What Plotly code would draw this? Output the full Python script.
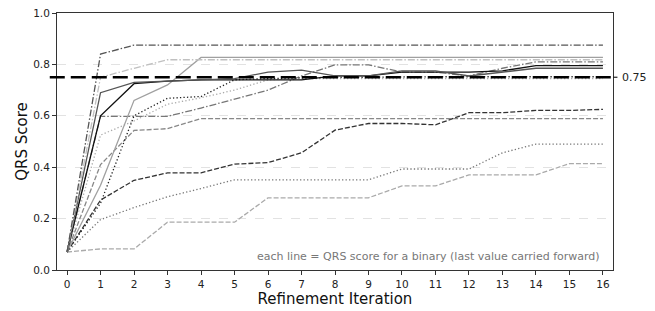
import plotly.graph_objects as go

iterations = list(range(17))

# QRS score per binary (last value carried forward)
bin_a = [0.07, 0.84, 0.875, 0.875, 0.875, 0.875, 0.875, 0.875, 0.875, 0.875, 0.875, 0.875, 0.875, 0.875, 0.875, 0.875, 0.875]
bin_b = [0.07, 0.75, 0.785, 0.818, 0.818, 0.818, 0.818, 0.818, 0.818, 0.818, 0.818, 0.818, 0.818, 0.818, 0.818, 0.818, 0.818]
bin_c = [0.07, 0.33, 0.66, 0.72, 0.827, 0.827, 0.827, 0.827, 0.827, 0.827, 0.827, 0.827, 0.827, 0.827, 0.827, 0.827, 0.827]
bin_d = [0.07, 0.69, 0.73, 0.735, 0.74, 0.745, 0.77, 0.778, 0.755, 0.755, 0.775, 0.775, 0.755, 0.77, 0.785, 0.785, 0.785]
bin_e = [0.07, 0.60, 0.725, 0.735, 0.74, 0.74, 0.74, 0.74, 0.755, 0.755, 0.77, 0.77, 0.77, 0.775, 0.795, 0.795, 0.795]
bin_f = [0.07, 0.26, 0.60, 0.668, 0.675, 0.74, 0.745, 0.748, 0.75, 0.75, 0.752, 0.752, 0.752, 0.752, 0.752, 0.752, 0.752]
bin_g = [0.07, 0.525, 0.58, 0.645, 0.67, 0.70, 0.74, 0.745, 0.745, 0.745, 0.745, 0.745, 0.745, 0.745, 0.745, 0.745, 0.745]
bin_h = [0.07, 0.598, 0.598, 0.598, 0.63, 0.665, 0.70, 0.755, 0.798, 0.798, 0.77, 0.77, 0.755, 0.785, 0.81, 0.81, 0.81]
bin_i = [0.07, 0.41, 0.543, 0.55, 0.589, 0.589, 0.589, 0.589, 0.589, 0.589, 0.589, 0.589, 0.589, 0.589, 0.589, 0.589, 0.589]
bin_j = [0.07, 0.272, 0.349, 0.378, 0.378, 0.412, 0.418, 0.456, 0.544, 0.57, 0.57, 0.565, 0.612, 0.612, 0.621, 0.621, 0.625]
bin_k = [0.07, 0.196, 0.243, 0.285, 0.317, 0.351, 0.351, 0.351, 0.351, 0.351, 0.393, 0.393, 0.393, 0.456, 0.49, 0.49, 0.49]
bin_l = [0.07, 0.082, 0.082, 0.186, 0.186, 0.186, 0.281, 0.281, 0.281, 0.281, 0.327, 0.327, 0.37, 0.37, 0.37, 0.414, 0.414]

threshold = 0.75
x_ticks = list(range(17))
y_ticks = [0.0, 0.2, 0.4, 0.6, 0.8, 1.0]

DASH = "5px,2px"
DOT = "1.3px,2.2px"
DASHDOT = "7px,2px,1.5px,2px"

series = [
    (bin_l, "#aaaaaa", DASH),
    (bin_k, "#777777", DOT),
    (bin_j, "#333333", DASH),
    (bin_i, "#888888", DASH),
    (bin_h, "#777777", DASHDOT),
    (bin_g, "#aaaaaa", DOT),
    (bin_f, "#222222", DOT),
    (bin_c, "#a0a0a0", "solid"),
    (bin_e, "#111111", "solid"),
    (bin_d, "#555555", "solid"),
    (bin_b, "#c0c0c0", DASHDOT),
    (bin_a, "#555555", DASHDOT),
]

fig = go.Figure()
for vals, color, dash in series:
    fig.add_trace(go.Scatter(x=iterations, y=vals, mode="lines",
                             line=dict(color=color, width=1.3, dash=dash),
                             showlegend=False, hoverinfo="skip"))

# threshold line
fig.add_shape(type="line", xref="paper", yref="y", x0=-0.013, x1=1.0,
              y0=threshold, y1=threshold, layer="above",
              line=dict(color="black", width=2.6, dash="15px,6px"))
fig.add_shape(type="line", xref="paper", yref="y", x0=1.0, x1=1.008,
              y0=threshold, y1=threshold, layer="above",
              line=dict(color="#222222", width=1.2))
fig.add_annotation(x=1.012, y=threshold, xref="paper", yref="y",
                   text=f"{threshold:.2f}", showarrow=False, xanchor="left",
                   yanchor="middle", font=dict(size=11, color="#222222"))

fig.add_annotation(x=0.98, y=0.053, xref="paper", yref="y",
                   text="each line = QRS score for a binary (last value carried forward)",
                   showarrow=False, xanchor="right", yanchor="middle",
                   font=dict(size=11, color="#777777"))

axis_common = dict(showline=True, linecolor="#333333", linewidth=1, mirror=True,
                   ticks="outside", ticklen=4, tickcolor="#333333", tickwidth=1,
                   zeroline=False, tickfont=dict(size=10.5, color="#222222"))

fig.update_xaxes(range=[-0.3, 16.3], tickvals=x_ticks, showgrid=False,
                 title=dict(text="Refinement Iteration", font=dict(size=15, color="#111111"), standoff=4),
                 **axis_common)
fig.update_yaxes(range=[0, 1], tickvals=y_ticks, tickformat=".1f", showgrid=True,
                 gridcolor="#e2e2e2", gridwidth=0.7, griddash="dash",
                 title=dict(text="QRS Score", font=dict(size=15, color="#111111"), standoff=1),
                 **axis_common)

fig.update_layout(width=655, height=311, margin=dict(l=57, r=42, t=7, b=41),
                  paper_bgcolor="white", plot_bgcolor="white",
                  font=dict(family="DejaVu Sans"))

fig.write_html("out.html", config={"displayModeBar": False},
               post_script="document.body.style.margin='0';")
